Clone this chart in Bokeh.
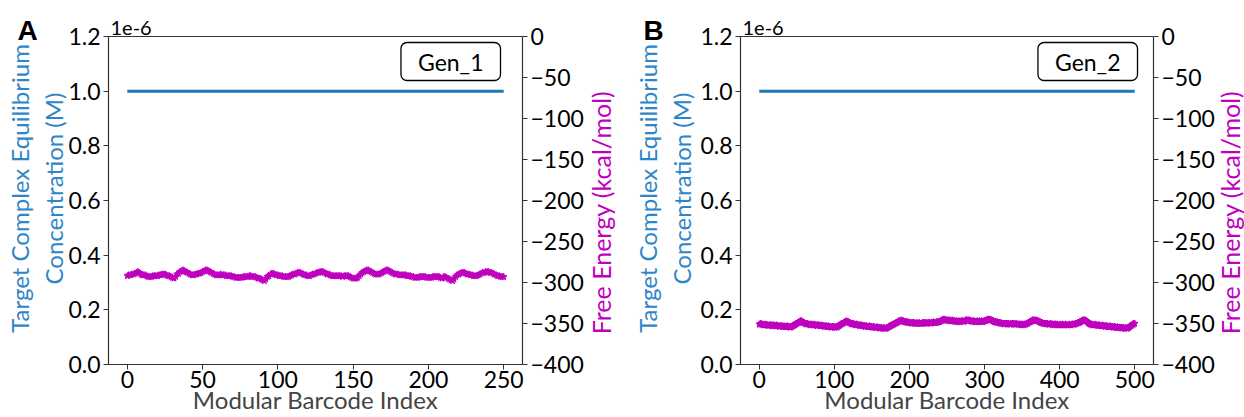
import math
from bokeh.plotting import figure
from bokeh.models import Range1d, LinearAxis, FixedTicker, CustomJSTickFormatter, Label
from bokeh.layouts import row
from bokeh.embed import file_html
from bokeh.resources import INLINE

# ---------------- data ----------------
gen1_index = list(range(0, 251))
gen1_conc = [1.0e-6] * 251
gen1_energy = [
    -292, -291, -291, -290, -290, -289, -288, -287, -288, -290,
    -291, -291, -291, -292, -293, -293, -293, -292, -292, -292,
    -292, -291, -291, -290, -290, -290, -291, -292, -292, -293,
    -294, -295, -293, -290, -289, -287, -286, -285, -286, -287,
    -288, -289, -290, -291, -291, -290, -290, -289, -289, -288,
    -287, -286, -285, -285, -286, -287, -288, -289, -290, -291,
    -291, -291, -290, -291, -291, -291, -292, -292, -292, -292,
    -293, -293, -294, -294, -294, -294, -294, -293, -293, -293,
    -293, -292, -292, -293, -293, -293, -294, -295, -295, -296,
    -297, -298, -296, -293, -292, -290, -289, -289, -290, -291,
    -291, -292, -292, -292, -293, -293, -293, -293, -292, -291,
    -290, -290, -289, -288, -288, -288, -289, -290, -291, -291,
    -292, -292, -291, -290, -290, -289, -288, -288, -287, -287,
    -287, -288, -289, -290, -290, -291, -292, -292, -292, -292,
    -292, -292, -292, -293, -292, -292, -292, -292, -293, -294,
    -295, -295, -295, -294, -292, -290, -288, -287, -286, -285,
    -285, -286, -287, -288, -289, -290, -290, -290, -289, -288,
    -287, -286, -285, -285, -286, -287, -288, -289, -290, -290,
    -290, -291, -291, -291, -291, -291, -292, -292, -292, -293,
    -293, -294, -294, -294, -293, -293, -293, -293, -293, -294,
    -294, -294, -294, -293, -293, -293, -293, -293, -294, -295,
    -293, -293, -294, -295, -296, -297, -298, -296, -293, -291,
    -290, -289, -288, -288, -288, -289, -290, -290, -291, -291,
    -292, -292, -292, -291, -290, -289, -288, -288, -287, -287,
    -287, -288, -288, -289, -290, -291, -292, -292, -293, -293,
    -293,
]

gen2_index = list(range(0, 501))
gen2_conc = [1.0e-6] * 501
gen2_energy = [
    -351, -351, -350, -351, -351, -352, -351, -352, -352, -351, -352, -352, -353, -352, -352, -352, -353, -352, -352, -353,
    -352, -353, -353, -352, -353, -353, -353, -354, -353, -353, -353, -354, -354, -353, -354, -354, -354, -353, -354, -354,
    -354, -355, -354, -354, -353, -353, -352, -352, -351, -350, -350, -349, -349, -348, -348, -347, -347, -348, -348, -349,
    -349, -350, -350, -351, -350, -351, -351, -351, -352, -351, -351, -352, -352, -351, -352, -352, -352, -353, -352, -352,
    -352, -353, -353, -352, -353, -353, -353, -354, -353, -353, -354, -354, -353, -354, -354, -354, -355, -354, -354, -354,
    -355, -354, -354, -355, -354, -353, -353, -352, -351, -351, -350, -350, -349, -349, -348, -348, -347, -348, -348, -348,
    -349, -349, -350, -350, -351, -350, -351, -351, -352, -351, -351, -352, -352, -352, -353, -352, -352, -353, -353, -353,
    -353, -354, -353, -353, -354, -354, -354, -353, -354, -354, -354, -355, -354, -354, -355, -355, -355, -354, -355, -355,
    -355, -356, -355, -355, -356, -356, -355, -356, -356, -356, -355, -355, -354, -354, -353, -353, -352, -352, -351, -351,
    -350, -350, -349, -349, -348, -348, -347, -347, -347, -346, -347, -347, -347, -348, -348, -348, -348, -349, -348, -349,
    -349, -349, -349, -350, -349, -349, -350, -349, -350, -350, -349, -350, -350, -349, -350, -350, -350, -349, -350, -349,
    -349, -350, -349, -349, -350, -349, -349, -349, -350, -349, -349, -349, -348, -349, -349, -349, -348, -349, -348, -348,
    -348, -347, -347, -346, -346, -345, -345, -345, -346, -346, -346, -346, -347, -346, -346, -347, -347, -346, -347, -347,
    -347, -348, -347, -347, -348, -348, -347, -348, -348, -347, -347, -347, -348, -347, -347, -346, -346, -346, -347, -346,
    -346, -347, -347, -347, -348, -347, -347, -348, -348, -348, -347, -348, -348, -347, -348, -348, -347, -348, -348, -347,
    -347, -347, -346, -346, -345, -345, -345, -346, -345, -346, -346, -347, -347, -348, -348, -348, -349, -348, -349, -349,
    -349, -350, -349, -350, -350, -350, -351, -350, -350, -350, -351, -350, -350, -351, -351, -350, -351, -350, -350, -350,
    -351, -351, -350, -351, -351, -351, -351, -351, -351, -352, -351, -351, -352, -351, -351, -351, -350, -350, -349, -349,
    -348, -348, -347, -347, -346, -346, -346, -346, -347, -346, -347, -347, -347, -348, -348, -349, -349, -349, -350, -350,
    -350, -350, -351, -350, -350, -351, -351, -351, -350, -351, -351, -351, -352, -351, -351, -351, -352, -351, -352, -352,
    -352, -351, -352, -352, -351, -352, -352, -352, -351, -352, -352, -352, -352, -351, -352, -352, -351, -351, -351, -351,
    -351, -350, -350, -350, -349, -349, -349, -348, -348, -347, -347, -346, -346, -346, -346, -347, -347, -348, -349, -350,
    -350, -351, -351, -351, -352, -352, -352, -351, -352, -352, -352, -353, -352, -352, -353, -353, -353, -352, -353, -353,
    -353, -354, -353, -353, -354, -354, -354, -353, -354, -354, -354, -354, -355, -354, -354, -355, -355, -354, -355, -355,
    -355, -355, -355, -356, -355, -355, -356, -356, -355, -356, -356, -355, -355, -354, -353, -353, -352, -351, -351, -350,
    -350,
]

conc_range = (0.0, 1.2e-6)
energy_range = (-400, 0)
conc_ticks = [0.0, 0.2e-6, 0.4e-6, 0.6e-6, 0.8e-6, 1.0e-6, 1.2e-6]
energy_ticks = [0, -50, -100, -150, -200, -250, -300, -350, -400]

# ---------------- style ----------------
FONT = "Lato"
BLUE_LINE = "#1f77b4"
BLUE_TEXT = "#2e86c8"
MAGENTA = "#bf00bf"
AXIS_COLOR = "#333333"
W, H = 622, 417
BOX_TOP, BOX_BOTTOM = 36, 364


def make_panel(letter, gen_name, idx, conc, energy, x_lim, x_ticks,
               box_left, box_right, letter_dx, gen_dx, llabel_dx, rlabel_dx):
    # map the plot box (in pixels) onto data ranges; the frame covers the full canvas
    x0, x1 = x_lim
    sx = (x1 - x0) / (box_right - box_left)
    c0, c1 = conc_range
    sy = (c1 - c0) / (BOX_BOTTOM - BOX_TOP)
    e0, e1 = energy_range
    se = (e1 - e0) / (BOX_BOTTOM - BOX_TOP)

    p = figure(width=W, height=H, output_backend="svg", toolbar_location=None,
               x_range=Range1d(x0 - box_left * sx, x1 + (W - box_right) * sx),
               y_range=Range1d(c0 - (H - BOX_BOTTOM) * sy, c1 + BOX_TOP * sy),
               x_axis_location=None, y_axis_location=None,
               min_border=0, min_border_left=0, min_border_right=0,
               min_border_top=0, min_border_bottom=0)
    p.xgrid.visible = False
    p.ygrid.visible = False
    p.outline_line_color = None
    p.background_fill_color = "white"
    p.border_fill_color = "white"
    p.extra_y_ranges = {"energy": Range1d(e0 - (H - BOX_BOTTOM) * se, e1 + BOX_TOP * se)}

    bottom = LinearAxis(fixed_location=c0, bounds=(x0, x1),
                        ticker=FixedTicker(ticks=x_ticks), axis_label="Modular Barcode Index")
    top = LinearAxis(fixed_location=c1, bounds=(x0, x1), ticker=FixedTicker(ticks=[]))
    left = LinearAxis(fixed_location=x0, bounds=(c0, c1), ticker=FixedTicker(ticks=conc_ticks),
                      formatter=CustomJSTickFormatter(code="return (tick*1e6).toFixed(1);"))
    right = LinearAxis(fixed_location=x1, bounds=(e0, e1), y_range_name="energy",
                       ticker=FixedTicker(ticks=energy_ticks))
    p.add_layout(bottom, "below")
    p.add_layout(top, "above")
    p.add_layout(left, "left")
    p.add_layout(right, "right")

    for ax in [bottom, top, left, right]:
        ax.major_label_text_font = FONT
        ax.major_label_text_font_size = "23px"
        ax.major_label_text_color = "black"
        ax.axis_label_text_font = FONT
        ax.axis_label_text_font_size = "24px"
        ax.axis_label_text_font_style = "normal"
        ax.axis_line_color = AXIS_COLOR
        ax.axis_line_width = 1.2
        ax.major_tick_line_color = AXIS_COLOR
        ax.major_tick_in = 0
        ax.major_tick_out = 5
        ax.minor_tick_line_color = None
        ax.major_label_standoff = 3
        ax.axis_label_standoff = 3

    bottom.major_label_standoff = 1
    bottom.axis_label_standoff = -6

    p.line(idx, conc, line_color=BLUE_LINE, line_width=3)
    p.line(idx, energy, y_range_name="energy", line_color=MAGENTA, line_width=2.5)
    p.scatter(idx, energy, y_range_name="energy", marker="star", size=7,
              fill_color=MAGENTA, line_color=MAGENTA)

    # left axis title (two lines), reading bottom-to-top
    p.add_layout(Label(x=x0, y=c1, text="Target Complex Equilibrium\nConcentration (M)",
                       angle=math.pi / 2, x_offset=llabel_dx, y_offset=-152,
                       text_align="center", text_baseline="middle", text_line_height=1.2,
                       text_font=FONT, text_font_size="24px", text_color=BLUE_TEXT))
    # right axis title, reading bottom-to-top
    p.add_layout(Label(x=x1, y=e1, y_range_name="energy",
                       text="Free Energy (kcal/mol)", angle=math.pi / 2,
                       x_offset=rlabel_dx, y_offset=-176, text_align="center", text_baseline="middle",
                       text_font=FONT, text_font_size="25px", text_color=MAGENTA))

    p.add_layout(Label(x=x0, y=c1, text="1e-6", x_offset=2, y_offset=9,
                       text_font=FONT, text_font_size="20px", text_color="black",
                       text_baseline="alphabetic"))
    p.add_layout(Label(x=x0, y=c1, text=letter, x_offset=letter_dx, y_offset=6,
                       text_font="Liberation Sans", text_font_size="28px",
                       text_font_style="bold", text_color="black",
                       text_baseline="alphabetic"))
    p.add_layout(Label(x=x1, y=c1, text=gen_name, x_offset=gen_dx, y_offset=-25,
                       text_font=FONT, text_font_size="23px", text_color="black",
                       text_align="right", text_baseline="middle",
                       border_line_color="black", border_line_width=1.3,
                       background_fill_color="white",
                       padding=dict(left=17, right=17, top=5, bottom=5), border_radius=6))
    return p


pA = make_panel("A", "Gen_1", gen1_index, gen1_conc, gen1_energy,
                (-12.5, 262.5), [0, 50, 100, 150, 200, 250], 108, 522, -91, -22, -72, 78)
pB = make_panel("B", "Gen_2", gen2_index, gen2_conc, gen2_energy,
                (-25, 525), [0, 100, 200, 300, 400, 500], 118, 531, -97, -16, -76, 76)

layout = row(pA, pB)
open("out.html", "w").write(file_html(layout, INLINE))
